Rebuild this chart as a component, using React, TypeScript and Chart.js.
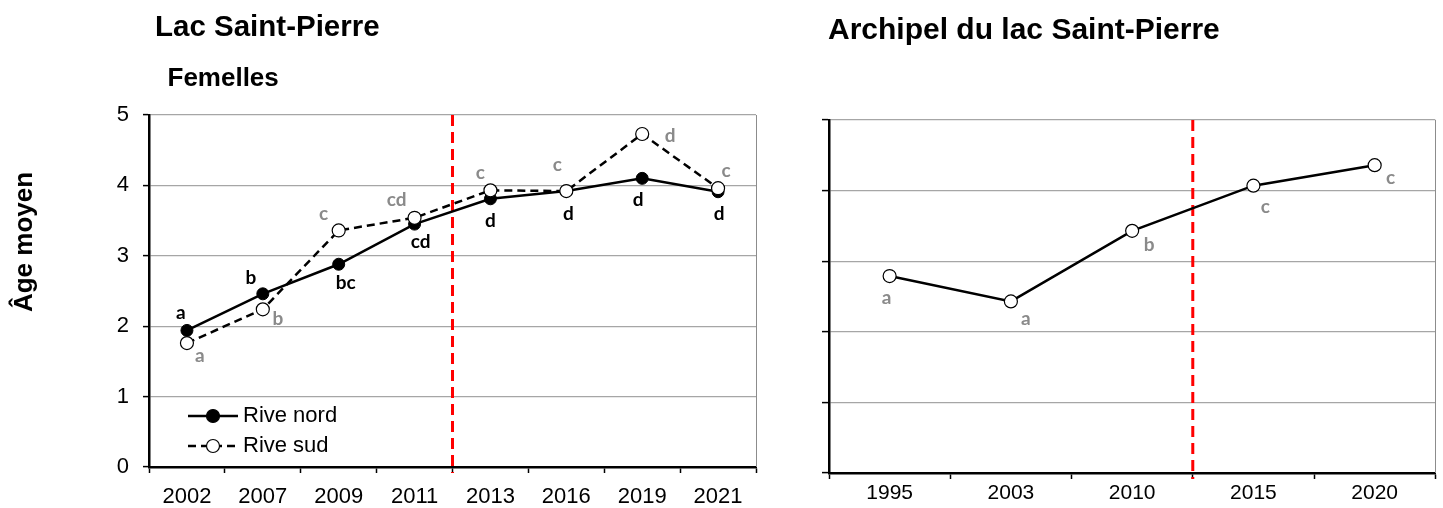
import React, { useEffect, useRef } from 'react';
import { Chart, registerables } from 'chart.js';

Chart.register(...registerables);

// ---------------- Data ----------------
const leftYears = ['2002', '2007', '2009', '2011', '2013', '2016', '2019', '2021'];
const riveNord = [1.94, 2.46, 2.88, 3.45, 3.81, 3.92, 4.1, 3.91];
const riveSud = [1.76, 2.24, 3.36, 3.54, 3.93, 3.92, 4.73, 3.96];
const nordLetters = ['a', 'b', 'bc', 'cd', 'd', 'd', 'd', 'd'];
const sudLetters = ['a', 'b', 'c', 'cd', 'c', 'c', 'd', 'c'];
const leftBreak = ['2011', '2013'];

const rightYears = ['1995', '2003', '2010', '2015', '2020'];
const archipel = [2.79, 2.43, 3.43, 4.07, 4.36];
const archLetters = ['a', 'a', 'b', 'c', 'c'];
const rightBreak = ['2010', '2015'];

const yMin = 0;
const yMax = 5;
const yStep = 1;

// label placement (pixel offsets from each point)
const nordLabelOffsets = [[-6, -18], [-12, -16], [7, 19], [6, 18], [0, 22], [2, 23], [-4, 22], [1, 22]];
const sudLabelOffsets = [[13, 13], [15, 10], [-15, -17], [-18, -18], [-10, -17], [-9, -26], [28, 2], [8, -17]];
const archLabelOffsets = [[-3, 22], [15, 17], [17, 14], [12, 21], [16, 13]];

const FONT = '"Liberation Sans", Arial, sans-serif';
const LETTER_FONT = 'bold 19px Lato, "Open Sans", sans-serif';
const GRID = '#a6a6a6';
const GRAY_TXT = '#8a8a8a';

function overlayPlugin(opts: any) {
  return {
    id: 'overlay',
    beforeDatasetsDraw(chart: any) {
      const { ctx, chartArea, scales } = chart;
      const xs = scales.x;
      const labels = xs.getLabels();
      const i1 = labels.indexOf(opts.breakPair[0]);
      const i2 = labels.indexOf(opts.breakPair[1]);
      const bx = xs.getPixelForValue((i1 + i2) / 2);
      ctx.save();
      ctx.strokeStyle = '#8c8c8c';
      ctx.lineWidth = 1;
      ctx.beginPath();
      ctx.moveTo(Math.round(chartArea.right) + 0.5, chartArea.top);
      ctx.lineTo(Math.round(chartArea.right) + 0.5, chartArea.bottom);
      ctx.stroke();
      ctx.strokeStyle = '#ff0000';
      ctx.lineWidth = 3;
      ctx.setLineDash([11, 6]);
      ctx.beginPath();
      ctx.moveTo(bx, chartArea.top);
      ctx.lineTo(bx, chartArea.bottom + 6);
      ctx.stroke();
      ctx.restore();
    },
    afterDatasetsDraw(chart: any) {
      const { ctx, chartArea } = chart;
      ctx.save();
      ctx.font = LETTER_FONT;
      ctx.textAlign = 'center';
      ctx.textBaseline = 'middle';
      opts.letters.forEach((set: any) => {
        const meta = chart.getDatasetMeta(set.dataset);
        set.text.forEach((t: string, i: number) => {
          const el = meta.data[i];
          if (!el) return;
          ctx.fillStyle = set.color;
          ctx.fillText(t, el.x + set.offsets[i][0], el.y + set.offsets[i][1]);
        });
      });
      if (opts.legend) {
        const lx = chartArea.left + 39;
        const items = [
          { label: 'Rive nord', y: chartArea.bottom - 51, dash: [], fill: '#000' },
          { label: 'Rive sud', y: chartArea.bottom - 21, dash: [8, 5], fill: '#fff' },
        ];
        items.forEach((it) => {
          ctx.strokeStyle = '#000';
          ctx.lineWidth = 2.5;
          ctx.setLineDash(it.dash);
          ctx.beginPath();
          ctx.moveTo(lx, it.y);
          ctx.lineTo(lx + 50, it.y);
          ctx.stroke();
          ctx.setLineDash([]);
          ctx.beginPath();
          ctx.arc(lx + 25, it.y, 6.5, 0, Math.PI * 2);
          ctx.fillStyle = it.fill;
          ctx.fill();
          ctx.lineWidth = 1.2;
          ctx.stroke();
          ctx.fillStyle = '#000';
          ctx.font = '22px ' + FONT;
          ctx.textAlign = 'left';
          ctx.fillText(it.label, lx + 55, it.y);
        });
      }
      ctx.restore();
    },
  };
}

function makeScales(o: any) {
  return {
    x: {
      type: 'category',
      offset: true,
      grid: {
        offset: true,
        drawOnChartArea: false,
        tickLength: 6,
        tickColor: '#000',
        tickWidth: 1.5,
      },
      border: { color: '#000', width: 2.5 },
      ticks: { color: '#000', font: { family: FONT, size: o.xFont }, padding: o.xPad, maxRotation: 0, autoSkip: false },
      afterFit: (s: any) => { s.height = o.xHeight; },
    },
    y: {
      min: yMin,
      max: yMax,
      grid: {
        color: (c: any) => (c.tick && c.tick.value === yMin ? 'rgba(0,0,0,0)' : GRID),
        lineWidth: 1.2,
        tickLength: o.yTick,
        tickColor: '#000',
        tickWidth: 1.5,
      },
      border: { color: '#000', width: 2.5 },
      ticks: {
        stepSize: yStep,
        color: '#000',
        font: { family: FONT, size: 22 },
        padding: 14,
        callback: o.showY ? (v: any) => String(v) : () => '',
      },
      afterFit: (s: any) => { s.width = o.yWidth; },
    },
  };
}

function leftConfig(): any {
  return {
    type: 'line',
    data: {
      labels: leftYears,
      datasets: [
        {
          label: 'Rive nord',
          data: riveNord,
          borderColor: '#000',
          borderWidth: 2.5,
          pointRadius: 6,
          pointBackgroundColor: '#000',
          pointBorderColor: '#000',
          pointBorderWidth: 1,
          order: 1,
        },
        {
          label: 'Rive sud',
          data: riveSud,
          borderColor: '#000',
          borderWidth: 2.5,
          borderDash: [8, 5],
          pointRadius: 6.5,
          pointBackgroundColor: '#fff',
          pointBorderColor: '#000',
          pointBorderWidth: 1.2,
          order: 0,
        },
      ],
    },
    options: {
      responsive: false,
      animation: false,
      devicePixelRatio: 1,
      layout: { padding: { left: 0, top: 115, right: 24, bottom: 0 } },
      elements: { line: { tension: 0 } },
      plugins: { legend: { display: false }, tooltip: { enabled: false }, title: { display: false } },
      scales: makeScales({ xFont: 22, xPad: 11, xHeight: 41, yTick: 6, yWidth: 149, showY: true }),
    },
    plugins: [
      overlayPlugin({
        breakPair: leftBreak,
        legend: true,
        letters: [
          { dataset: 0, text: nordLetters, offsets: nordLabelOffsets, color: '#000' },
          { dataset: 1, text: sudLetters, offsets: sudLabelOffsets, color: GRAY_TXT },
        ],
      }),
    ],
  };
}

function rightConfig(): any {
  return {
    type: 'line',
    data: {
      labels: rightYears,
      datasets: [
        {
          label: 'Archipel du lac Saint-Pierre',
          data: archipel,
          borderColor: '#000',
          borderWidth: 2.5,
          pointRadius: 6.5,
          pointBackgroundColor: '#fff',
          pointBorderColor: '#000',
          pointBorderWidth: 1.2,
        },
      ],
    },
    options: {
      responsive: false,
      animation: false,
      devicePixelRatio: 1,
      layout: { padding: { left: 0, top: 120, right: 7, bottom: 0 } },
      elements: { line: { tension: 0 } },
      plugins: { legend: { display: false }, tooltip: { enabled: false }, title: { display: false } },
      scales: makeScales({ xFont: 21, xPad: 2, xHeight: 35, yTick: 7, yWidth: 49, showY: false }),
    },
    plugins: [
      overlayPlugin({
        breakPair: rightBreak,
        legend: false,
        letters: [{ dataset: 0, text: archLetters, offsets: archLabelOffsets, color: GRAY_TXT }],
      }),
    ],
  };
}

function ChartCanvas({ make, left, width }: { make: () => any; left: number; width: number }) {
  const ref = useRef<HTMLCanvasElement | null>(null);
  useEffect(() => {
    if (!ref.current) return;
    const chart = new Chart(ref.current, make());
    return () => chart.destroy();
  }, []);
  return (
    <canvas
      ref={ref}
      width={width}
      height={508}
      style={{ position: 'absolute', left, top: 0, width, height: 508 }}
    />
  );
}

const titleStyle = (left: number, top: number, size: number): React.CSSProperties => ({
  position: 'absolute',
  left,
  top,
  fontFamily: FONT,
  fontWeight: 'bold',
  fontSize: size,
  lineHeight: 1,
  whiteSpace: 'nowrap',
  color: '#000',
});

export default function App() {
  return (
    <div
      style={{
        position: 'fixed',
        left: 0,
        top: 0,
        width: 1443,
        height: 508,
        background: '#fff',
        overflow: 'hidden',
      }}
    >
      <ChartCanvas make={leftConfig} left={0} width={780} />
      <ChartCanvas make={rightConfig} left={780} width={663} />
      <div style={titleStyle(155, 11, 29.5)}>Lac Saint-Pierre</div>
      <div style={titleStyle(167.5, 64, 26)}>Femelles</div>
      <div style={titleStyle(828, 13.5, 30)}>Archipel du lac Saint-Pierre</div>
      <div
        style={{
          ...titleStyle(-77, 228.5, 26),
          width: 200,
          textAlign: 'center',
          transform: 'rotate(-90deg)',
          transformOrigin: 'center center',
        }}
      >
        Âge moyen
      </div>
    </div>
  );
}
